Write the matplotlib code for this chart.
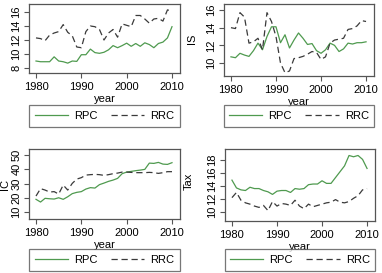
import numpy as np
import matplotlib
matplotlib.use("Agg")
import matplotlib.pyplot as plt

plt.rcParams['font.family'] = ['Liberation Sans', 'DejaVu Sans']

years = list(range(1980, 2011))

# panel 1 (top left)
p1_rpc = [9.0, 8.9, 8.9, 8.9, 9.6, 9.0, 8.9, 8.7, 9.0, 8.95, 9.9, 9.9, 10.7, 10.2, 10.1,
          10.25, 10.6, 11.2, 10.9, 11.2, 11.55, 11.1, 11.5, 11.1, 11.6, 11.35, 10.9, 11.5,
          11.7, 12.3, 13.9]
p1_rrc = [12.3, 12.2, 11.9, 12.7, 13.0, 13.2, 14.2, 13.1, 12.6, 11.0, 10.9, 13.2, 14.0,
          13.9, 13.5, 12.0, 13.0, 13.5, 12.4, 14.3, 14.1, 13.9, 15.5, 15.5, 15.0, 14.4,
          15.0, 15.1, 14.7, 16.3, 16.1]

# panel 2 (top right) - IS
p2_rpc = [10.7, 10.6, 11.1, 10.9, 10.75, 11.4, 12.25, 11.5, 13.0, 14.1, 14.1, 12.3, 13.2,
          11.7, 12.6, 13.4, 12.8, 12.1, 12.2, 11.4, 11.1, 11.5, 12.25, 12.0, 11.3, 11.6,
          12.25, 12.15, 12.3, 12.3, 12.4]
p2_rrc = [14.0, 13.9, 15.7, 15.2, 12.25, 12.4, 12.8, 11.5, 15.7, 14.7, 13.0, 10.0, 8.9,
          9.1, 10.5, 10.6, 10.75, 11.0, 11.3, 11.2, 10.4, 10.7, 12.25, 12.6, 12.7, 12.8,
          13.8, 13.9, 14.2, 14.8, 14.7]

# panel 3 (bottom left) - IC
p3_rpc = [18.9, 17.0, 19.6, 19.3, 19.1, 20.0, 18.9, 20.7, 22.9, 23.8, 24.3, 26.1, 27.1,
          26.8, 29.2, 30.3, 31.5, 32.4, 33.6, 36.9, 38.0, 38.5, 39.0, 39.4, 39.9, 44.3,
          44.1, 44.8, 43.6, 43.4, 44.6]
p3_rrc = [21.2, 26.4, 25.4, 24.0, 24.3, 22.6, 28.9, 25.4, 30.1, 33.1, 34.1, 35.9, 36.2,
          36.4, 36.2, 35.7, 36.2, 36.9, 37.3, 38.0, 38.0, 37.8, 37.6, 37.6, 37.6, 37.8,
          37.6, 37.1, 37.6, 38.3, 38.3]

# panel 4 (bottom right) - Tax
p4_rpc = [14.9, 13.7, 13.4, 13.3, 13.8, 13.6, 13.6, 13.3, 13.1, 12.7, 13.2, 13.3, 13.3,
          13.0, 13.6, 13.5, 13.6, 14.2, 14.3, 14.3, 14.8, 14.4, 14.4, 15.3, 16.2, 17.1,
          18.7, 18.5, 18.7, 18.1, 16.7]
p4_rrc = [12.2, 13.0, 11.8, 11.4, 11.2, 10.9, 10.7, 11.0, 10.2, 11.6, 10.9, 11.3, 11.2,
          11.0, 11.8, 10.9, 10.5, 11.2, 10.8, 11.0, 11.2, 11.4, 11.5, 11.9, 11.5, 11.4,
          11.6, 12.1, 12.5, 13.4, 13.6]

W, H = 382, 273
fig = plt.figure(figsize=(W / 100, H / 100), dpi=100)
fig.patch.set_facecolor('white')

green = '#4f9a4f'
dark = '#3a3a3a'
frame = '#555555'

# box in pixels (left, top, right, bottom), ylim, yticks, ylabel, ylabel pos, data, legend center y
panels = [
    ((29, 4, 180, 73), (7.29, 17.14), [8, 10, 12, 14, 16], '', None, p1_rpc, p1_rrc, 116),
    ((224, 4, 374, 76), (8.53, 16.68), [10, 12, 14, 16], 'IS', (-0.18, 0.51), p2_rpc, p2_rrc, 116),
    ((29, 149, 180, 219), (5.1, 54.2), [10, 20, 30, 40, 50], 'IC', (-0.125, 0.49), p3_rpc, p3_rrc, 260),
    ((225, 149, 375, 221), (8.6, 19.7), [10, 12, 14, 16, 18], 'Tax', (-0.21, 0.55), p4_rpc, p4_rrc, 260),
]

for (l, t, r, b), ylim, yt, ylab, ypos, rpc, rrc, legy in panels:
    ax = fig.add_axes([l / W, 1 - b / H, (r - l) / W, (b - t) / H])
    ax.plot(years, rpc, color=green, lw=0.9, label='RPC')
    ax.plot(years, rrc, color=dark, lw=0.9, ls=(0, (5, 3)), label='RRC')
    ax.set_ylim(ylim)
    ax.set_xlim(1980 - 7 / 4.53, 2010 + 8 / 4.53)
    ax.set_xticks([1980, 1990, 2000, 2010])
    ax.set_yticks(yt)
    ax.tick_params(labelsize=8, length=3.5, width=0.8, color=frame, pad=2)
    ax.tick_params(axis='x', pad=3)
    ax.tick_params(axis='y', labelrotation=90)
    plt.setp(ax.get_yticklabels(), va='center')
    for s in ax.spines.values():
        s.set_color(frame)
        s.set_linewidth(0.9)
    ax.set_xlabel('year', fontsize=8, labelpad=1.5)
    if ylab:
        ax.set_ylabel(ylab, fontsize=8)
        ax.yaxis.set_label_coords(*ypos)
    cx = (l + r) / 2 / W
    leg = ax.legend(loc='center', bbox_to_anchor=(cx, 1 - legy / H), bbox_transform=fig.transFigure,
                    ncol=2, fontsize=8, frameon=True, fancybox=False, handlelength=3.0,
                    columnspacing=1.2, handletextpad=0.55, borderpad=0.5, borderaxespad=0)
    leg.get_frame().set_edgecolor(frame)
    leg.get_frame().set_linewidth(0.9)

fig.savefig('out.png', dpi=100, facecolor='white')
